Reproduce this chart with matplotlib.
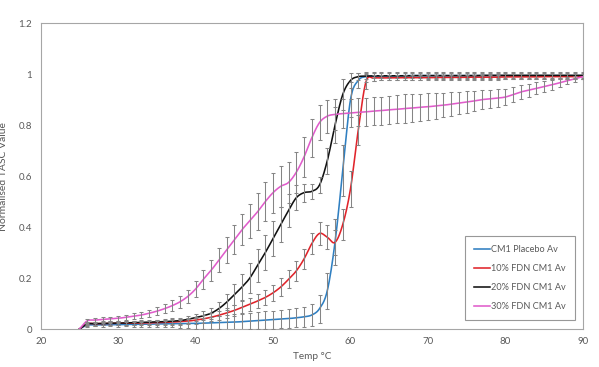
import numpy as np
import matplotlib
matplotlib.use("Agg")
import matplotlib.pyplot as plt
from matplotlib.ticker import FuncFormatter

temps = list(range(25, 91))

placebo = [0, 0.015, 0.016, 0.016, 0.017, 0.017, 0.018, 0.018, 0.019, 0.019,
           0.020, 0.020, 0.021, 0.021, 0.022, 0.022, 0.023, 0.024, 0.025, 0.026,
           0.027, 0.029, 0.031, 0.033, 0.035, 0.037, 0.039, 0.041, 0.044, 0.048,
           0.055, 0.08, 0.15, 0.34, 0.62, 0.90, 0.975, 0.99, 0.992, 0.993,
           0.993, 0.993, 0.994, 0.994, 0.994, 0.994, 0.994, 0.994, 0.994, 0.994,
           0.994, 0.994, 0.994, 0.994, 0.994, 0.994, 0.994, 0.994, 0.994, 0.994,
           0.994, 0.994, 0.994, 0.994, 0.994, 0.994]
fdn10 = [0, 0.020, 0.021, 0.021, 0.022, 0.022, 0.023, 0.023, 0.024, 0.024,
         0.025, 0.026, 0.027, 0.029, 0.031, 0.035, 0.040, 0.046, 0.054, 0.063,
         0.073, 0.085, 0.097, 0.110, 0.124, 0.142, 0.165, 0.195, 0.228, 0.275,
         0.335, 0.375, 0.36, 0.34, 0.41, 0.55, 0.78, 0.97, 0.984, 0.985,
         0.985, 0.985, 0.986, 0.986, 0.986, 0.986, 0.987, 0.987, 0.987, 0.987,
         0.988, 0.988, 0.988, 0.988, 0.988, 0.989, 0.989, 0.989, 0.989, 0.989,
         0.99, 0.99, 0.99, 0.99, 0.99, 0.99]
fdn20 = [0, 0.020, 0.021, 0.022, 0.023, 0.023, 0.024, 0.025, 0.026, 0.027,
         0.028, 0.029, 0.031, 0.033, 0.038, 0.045, 0.052, 0.062, 0.08, 0.105,
         0.135, 0.165, 0.20, 0.25, 0.30, 0.355, 0.41, 0.465, 0.515, 0.535,
         0.54, 0.565, 0.66, 0.80, 0.92, 0.975, 0.99, 0.992, 0.993, 0.993,
         0.993, 0.993, 0.993, 0.994, 0.994, 0.994, 0.994, 0.994, 0.994, 0.994,
         0.994, 0.994, 0.995, 0.995, 0.995, 0.995, 0.995, 0.995, 0.995, 0.995,
         0.995, 0.995, 0.995, 0.995, 0.995, 0.995]
fdn30 = [0, 0.032, 0.035, 0.037, 0.040, 0.042, 0.046, 0.050, 0.055, 0.062,
         0.070, 0.080, 0.092, 0.107, 0.128, 0.157, 0.195, 0.23, 0.27, 0.31,
         0.35, 0.39, 0.425, 0.46, 0.50, 0.535, 0.56, 0.575, 0.615, 0.675,
         0.75, 0.81, 0.835, 0.842, 0.845, 0.847, 0.85, 0.852, 0.855, 0.857,
         0.86, 0.862, 0.865, 0.867, 0.87, 0.872, 0.875, 0.878, 0.882, 0.886,
         0.89, 0.895, 0.90, 0.903, 0.906, 0.91, 0.92, 0.93, 0.937, 0.944,
         0.951, 0.958, 0.966, 0.974, 0.982, 0.99]

placebo_err = [0, 0.006, 0.006, 0.007, 0.007, 0.008, 0.008, 0.009, 0.010, 0.011,
               0.012, 0.013, 0.014, 0.016, 0.018, 0.020, 0.022, 0.024, 0.026, 0.028,
               0.030, 0.031, 0.032, 0.033, 0.034, 0.035, 0.036, 0.037, 0.038, 0.040,
               0.045, 0.055, 0.07, 0.09, 0.10, 0.07, 0.03, 0.02, 0.018, 0.017,
               0.016, 0.016, 0.016, 0.016, 0.016, 0.015, 0.015, 0.015, 0.015, 0.015,
               0.015, 0.015, 0.015, 0.015, 0.015, 0.015, 0.015, 0.015, 0.015, 0.015,
               0.015, 0.015, 0.015, 0.015, 0.015, 0.015]
fdn10_err = [0, 0.006, 0.006, 0.006, 0.007, 0.007, 0.007, 0.008, 0.008, 0.008,
             0.009, 0.010, 0.011, 0.012, 0.013, 0.014, 0.015, 0.016, 0.018, 0.020,
             0.022, 0.024, 0.026, 0.028, 0.030, 0.032, 0.034, 0.036, 0.038, 0.040,
             0.042, 0.044, 0.048, 0.05, 0.06, 0.07, 0.06, 0.03, 0.012, 0.010,
             0.010, 0.010, 0.010, 0.010, 0.010, 0.010, 0.010, 0.010, 0.010, 0.010,
             0.010, 0.010, 0.010, 0.010, 0.010, 0.010, 0.010, 0.010, 0.010, 0.010,
             0.010, 0.010, 0.010, 0.010, 0.010, 0.010]
fdn20_err = [0, 0.008, 0.008, 0.008, 0.008, 0.008, 0.008, 0.008, 0.008, 0.008,
             0.009, 0.010, 0.011, 0.012, 0.013, 0.015, 0.018, 0.022, 0.027, 0.032,
             0.040, 0.050, 0.060, 0.065, 0.070, 0.070, 0.070, 0.065, 0.050, 0.035,
             0.030, 0.030, 0.050, 0.070, 0.060, 0.030, 0.015, 0.012, 0.010, 0.010,
             0.010, 0.010, 0.010, 0.010, 0.010, 0.010, 0.010, 0.010, 0.010, 0.010,
             0.010, 0.010, 0.010, 0.010, 0.010, 0.010, 0.010, 0.010, 0.010, 0.010,
             0.010, 0.010, 0.010, 0.010, 0.010, 0.010]
fdn30_err = [0, 0.008, 0.008, 0.009, 0.009, 0.010, 0.010, 0.011, 0.012, 0.014,
             0.016, 0.018, 0.020, 0.023, 0.027, 0.032, 0.037, 0.042, 0.047, 0.052,
             0.057, 0.062, 0.067, 0.072, 0.076, 0.078, 0.080, 0.080, 0.080, 0.078,
             0.075, 0.070, 0.065, 0.060, 0.058, 0.056, 0.055, 0.055, 0.055, 0.055,
             0.055, 0.055, 0.055, 0.054, 0.053, 0.052, 0.050, 0.048, 0.046, 0.044,
             0.042, 0.040, 0.038, 0.036, 0.034, 0.032, 0.030, 0.028, 0.026, 0.024,
             0.022, 0.020, 0.017, 0.014, 0.012, 0.010]

labels = ["CM1 Placebo Av", "10% FDN CM1 Av", "20% FDN CM1 Av", "30% FDN CM1 Av"]
colors = ["#2f7fc1", "#e0242b", "#111111", "#e05ccb"]
series = [placebo, fdn10, fdn20, fdn30]
errors = [placebo_err, fdn10_err, fdn20_err, fdn30_err]


def smooth(x, y, n=12):
    """Catmull-Rom spline through the points (visual smoothing like Excel)."""
    x = np.asarray(x, float)
    y = np.asarray(y, float)
    px = np.concatenate([[2 * x[0] - x[1]], x, [2 * x[-1] - x[-2]]])
    py = np.concatenate([[2 * y[0] - y[1]], y, [2 * y[-1] - y[-2]]])
    xs, ys = [], []
    t = np.linspace(0, 1, n, endpoint=False)
    for i in range(1, len(px) - 2):
        for arr, out in ((px, xs), (py, ys)):
            p0, p1, p2, p3 = arr[i - 1], arr[i], arr[i + 1], arr[i + 2]
            out.extend(0.5 * ((2 * p1) + (-p0 + p2) * t
                              + (2 * p0 - 5 * p1 + 4 * p2 - p3) * t ** 2
                              + (-p0 + 3 * p1 - 3 * p2 + p3) * t ** 3))
    xs.append(x[-1])
    ys.append(y[-1])
    return np.array(xs), np.array(ys)


plt.rcParams['font.family'] = ['Lato', 'DejaVu Sans']
fig = plt.figure(figsize=(5.99, 3.67), dpi=100)
ax = fig.add_axes([0.068, 0.1035, 0.905, 0.8335])

for yv, ev, c, lab in zip(series, errors, colors, labels):
    sx, sy = smooth(temps, yv)
    ax.plot(sx, sy, color=c, lw=1.15, label=lab, zorder=3)
for yv, ev in zip(series, errors):
    ax.errorbar(temps[1:], yv[1:], yerr=ev[1:], fmt='none', ecolor='#858585',
                elinewidth=0.75, capsize=1.6, capthick=0.75, zorder=4)

ax.set_xlim(20, 90)
ax.set_ylim(0, 1.2)
ax.set_xticks(range(20, 91, 10))
ax.set_yticks([0, 0.2, 0.4, 0.6, 0.8, 1.0, 1.2])
ax.yaxis.set_major_formatter(FuncFormatter(lambda v, p: f"{v:g}"))
ax.tick_params(length=0, labelsize=7, colors='#595959', pad=6)
for s in ax.spines.values():
    s.set_color('#a6a6a6')
    s.set_linewidth(0.8)

ax.set_xlabel("Temp °C", fontsize=7.2, color='#595959', labelpad=4)
ax.set_ylabel("Normalised TASC Value", fontsize=7.5, color='#595959', labelpad=8)

leg = ax.legend(loc='lower right', bbox_to_anchor=(0.985, 0.029), fontsize=6.6,
                frameon=True, fancybox=False, edgecolor='#7f7f7f',
                handlelength=1.7, handletextpad=0.1, labelspacing=1.1,
                borderpad=1.0, borderaxespad=0)
leg.get_frame().set_linewidth(0.8)
for t in leg.get_texts():
    t.set_color('#595959')

fig.savefig("out.png", dpi=100)
